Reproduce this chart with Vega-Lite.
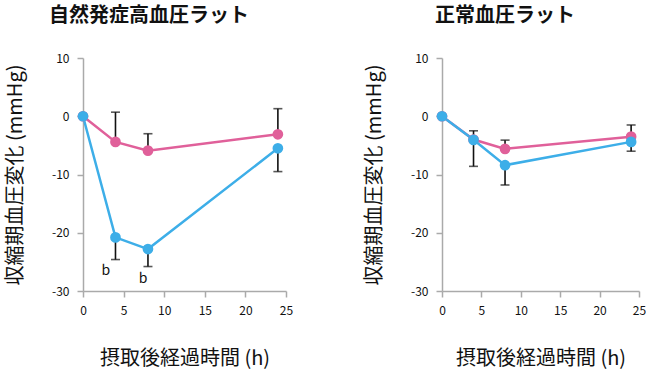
{
  "$schema": "https://vega.github.io/schema/vega-lite/v6.json",
  "padding": {"left": 5, "top": 6, "right": 0, "bottom": 2},
  "config": {
    "font": "Noto Sans CJK JP",
    "view": {"stroke": null},
    "axis": {
      "grid": false,
      "domainColor": "#aaaaaa",
      "domainWidth": 1.5,
      "tickColor": "#aaaaaa",
      "tickWidth": 1.5,
      "tickSize": 6,
      "labelFlush": false,
      "labelOverlap": false,
      "labelFont": "Noto Sans CJK JP",
      "labelFontSize": 12,
      "labelColor": "#111111",
      "labelPadding": 8,
      "titleFont": "Noto Sans CJK JP",
      "titleFontSize": 20,
      "titleFontWeight": "normal",
      "titleColor": "#111111"
    },
    "title": {"font": "Noto Sans CJK JP", "fontSize": 20, "fontWeight": "bold", "color": "#111111", "anchor": "middle", "frame": "bounds", "offset": 26},
    "concat": {"spacing": 71}
  },
  "datasets": {
    "shr": [
      {"series": "A", "time": 0, "value": 0, "err_end": null},
      {"series": "A", "time": 4, "value": -4.4, "err_end": 0.7},
      {"series": "A", "time": 8, "value": -5.9, "err_end": -3.0},
      {"series": "A", "time": 24, "value": -3.1, "err_end": 1.3},
      {"series": "B", "time": 0, "value": 0, "err_end": null},
      {"series": "B", "time": 4, "value": -20.8, "err_end": -24.6},
      {"series": "B", "time": 8, "value": -22.8, "err_end": -25.8},
      {"series": "B", "time": 24, "value": -5.5, "err_end": -9.5}
    ],
    "wky": [
      {"series": "A", "time": 0, "value": 0, "err_end": null},
      {"series": "A", "time": 4, "value": -4.0, "err_end": -2.5},
      {"series": "A", "time": 8, "value": -5.6, "err_end": -4.1},
      {"series": "A", "time": 24, "value": -3.5, "err_end": -1.5},
      {"series": "B", "time": 0, "value": 0, "err_end": null},
      {"series": "B", "time": 4, "value": -4.05, "err_end": -8.6},
      {"series": "B", "time": 8, "value": -8.4, "err_end": -11.8},
      {"series": "B", "time": 24, "value": -4.4, "err_end": -6.0}
    ],
    "shr_labels": [
      {"time": 2.8, "value": -26.6, "label": "b"},
      {"time": 7.4, "value": -27.9, "label": "b"}
    ]
  },
  "hconcat": [
    {
      "title": "自然発症高血圧ラット",
      "width": 203,
      "height": 233,
      "data": {"name": "shr"},
      "encoding": {
        "x": {"field": "time", "type": "quantitative", "scale": {"domain": [0, 25], "nice": false, "zero": false}, "axis": {"values": [0, 5, 10, 15, 20, 25], "title": "摂取後経過時間 (h)", "titlePadding": 32}},
        "y": {"field": "value", "type": "quantitative", "scale": {"domain": [-30, 10], "nice": false}, "axis": {"values": [-30, -20, -10, 0, 10], "labelExpr": "datum.value + ''", "title": "収縮期血圧変化 (mmHg)", "titlePadding": 26}}
      },
      "layer": [
        {
          "mark": {"type": "line", "strokeWidth": 2.5},
          "encoding": {"color": {"field": "series", "type": "nominal", "scale": {"domain": ["A", "B"], "range": ["#e0609a", "#3daee8"]}, "legend": null}}
        },
        {
          "transform": [{"filter": "datum.err_end != null"}],
          "mark": {"type": "errorbar", "color": "#111111", "rule": {"strokeWidth": 1.6}, "ticks": {"size": 9, "thickness": 1.6, "color": "#111111"}},
          "encoding": {"y2": {"field": "err_end"}}
        },
        {
          "mark": {"type": "point", "filled": true, "opacity": 1, "size": 115},
          "encoding": {"color": {"field": "series", "type": "nominal", "scale": {"domain": ["A", "B"], "range": ["#e0609a", "#3daee8"]}, "legend": null}}
        },
        {
          "data": {"name": "shr_labels"},
          "mark": {"type": "text", "fontSize": 14, "color": "#111111", "font": "Noto Sans CJK JP"},
          "encoding": {"text": {"field": "label"}}
        }
      ]
    },
    {
      "title": "正常血圧ラット",
      "width": 197,
      "height": 233,
      "data": {"name": "wky"},
      "encoding": {
        "x": {"field": "time", "type": "quantitative", "scale": {"domain": [0, 25], "nice": false, "zero": false}, "axis": {"values": [0, 5, 10, 15, 20, 25], "title": "摂取後経過時間 (h)", "titlePadding": 32}},
        "y": {"field": "value", "type": "quantitative", "scale": {"domain": [-30, 10], "nice": false}, "axis": {"values": [-30, -20, -10, 0, 10], "labelExpr": "datum.value + ''", "title": "収縮期血圧変化 (mmHg)", "titlePadding": 26}}
      },
      "layer": [
        {
          "mark": {"type": "line", "strokeWidth": 2.5},
          "encoding": {"color": {"field": "series", "type": "nominal", "scale": {"domain": ["A", "B"], "range": ["#e0609a", "#3daee8"]}, "legend": null}}
        },
        {
          "transform": [{"filter": "datum.err_end != null"}],
          "mark": {"type": "errorbar", "color": "#111111", "rule": {"strokeWidth": 1.6}, "ticks": {"size": 9, "thickness": 1.6, "color": "#111111"}},
          "encoding": {"y2": {"field": "err_end"}}
        },
        {
          "mark": {"type": "point", "filled": true, "opacity": 1, "size": 115},
          "encoding": {"color": {"field": "series", "type": "nominal", "scale": {"domain": ["A", "B"], "range": ["#e0609a", "#3daee8"]}, "legend": null}}
        }
      ]
    }
  ]
}
